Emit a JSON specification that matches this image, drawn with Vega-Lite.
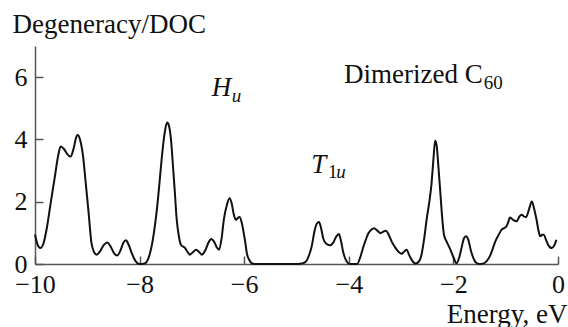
{
  "$schema": "https://vega.github.io/schema/vega-lite/v6.json",
  "autosize": {"type": "none"},
  "padding": {"left": 35, "top": 46, "right": 10, "bottom": 63},
  "width": 523,
  "height": 218,
  "config": {
    "view": {"stroke": null},
    "font": "Liberation Serif",
    "axis": {
      "grid": false,
      "labelFont": "Liberation Serif",
      "titleFont": "Liberation Serif",
      "labelFontSize": 26,
      "titleFontSize": 27,
      "labelColor": "#111",
      "titleColor": "#111",
      "titleFontWeight": "normal",
      "domainColor": "#555",
      "tickColor": "#555",
      "domainWidth": 1.5,
      "tickWidth": 1.5,
      "tickSize": -8,
      "labelFlush": false,
      "labelBound": false,
      "labelOverlap": false
    }
  },
  "datasets": {
    "doc": [
      {"e": -10.00, "d": 0.95}, {"e": -9.95, "d": 0.62}, {"e": -9.90, "d": 0.51}, {"e": -9.84, "d": 0.65},
      {"e": -9.78, "d": 1.10}, {"e": -9.71, "d": 1.85}, {"e": -9.62, "d": 2.81}, {"e": -9.56, "d": 3.45},
      {"e": -9.51, "d": 3.77}, {"e": -9.45, "d": 3.70}, {"e": -9.38, "d": 3.52}, {"e": -9.32, "d": 3.45},
      {"e": -9.26, "d": 3.72}, {"e": -9.21, "d": 4.08}, {"e": -9.18, "d": 4.14}, {"e": -9.14, "d": 4.00},
      {"e": -9.08, "d": 3.45}, {"e": -9.03, "d": 2.60}, {"e": -8.98, "d": 1.74}, {"e": -8.92, "d": 0.67},
      {"e": -8.87, "d": 0.38}, {"e": -8.82, "d": 0.30}, {"e": -8.76, "d": 0.40}, {"e": -8.68, "d": 0.62},
      {"e": -8.62, "d": 0.69}, {"e": -8.56, "d": 0.58}, {"e": -8.49, "d": 0.35}, {"e": -8.43, "d": 0.27},
      {"e": -8.37, "d": 0.42}, {"e": -8.31, "d": 0.68}, {"e": -8.26, "d": 0.76}, {"e": -8.21, "d": 0.62},
      {"e": -8.15, "d": 0.35}, {"e": -8.08, "d": 0.10}, {"e": -8.02, "d": 0.01}, {"e": -7.96, "d": 0.00},
      {"e": -7.89, "d": 0.03}, {"e": -7.84, "d": 0.15}, {"e": -7.80, "d": 0.35}, {"e": -7.75, "d": 0.75},
      {"e": -7.71, "d": 1.20}, {"e": -7.67, "d": 1.74}, {"e": -7.62, "d": 2.60}, {"e": -7.58, "d": 3.34},
      {"e": -7.53, "d": 4.10}, {"e": -7.49, "d": 4.48}, {"e": -7.47, "d": 4.54}, {"e": -7.44, "d": 4.45},
      {"e": -7.40, "d": 4.00}, {"e": -7.37, "d": 3.34}, {"e": -7.33, "d": 2.40}, {"e": -7.29, "d": 1.42},
      {"e": -7.25, "d": 0.90}, {"e": -7.21, "d": 0.62}, {"e": -7.13, "d": 0.51}, {"e": -7.08, "d": 0.38},
      {"e": -7.04, "d": 0.30}, {"e": -6.98, "d": 0.38}, {"e": -6.92, "d": 0.46}, {"e": -6.86, "d": 0.38},
      {"e": -6.81, "d": 0.30}, {"e": -6.74, "d": 0.45}, {"e": -6.68, "d": 0.70}, {"e": -6.63, "d": 0.80},
      {"e": -6.57, "d": 0.70}, {"e": -6.52, "d": 0.52}, {"e": -6.48, "d": 0.46}, {"e": -6.43, "d": 0.85},
      {"e": -6.39, "d": 1.42}, {"e": -6.33, "d": 1.90}, {"e": -6.28, "d": 2.11}, {"e": -6.24, "d": 1.95},
      {"e": -6.20, "d": 1.60}, {"e": -6.16, "d": 1.42}, {"e": -6.12, "d": 1.48}, {"e": -6.09, "d": 1.51},
      {"e": -6.05, "d": 1.35}, {"e": -6.02, "d": 1.10}, {"e": -5.98, "d": 0.70}, {"e": -5.95, "d": 0.35},
      {"e": -5.90, "d": 0.12}, {"e": -5.86, "d": 0.03}, {"e": -5.80, "d": 0.00}, {"e": -5.00, "d": 0.00},
      {"e": -4.93, "d": 0.01}, {"e": -4.87, "d": 0.03}, {"e": -4.81, "d": 0.10}, {"e": -4.76, "d": 0.28},
      {"e": -4.71, "d": 0.56}, {"e": -4.65, "d": 1.10}, {"e": -4.61, "d": 1.30}, {"e": -4.57, "d": 1.35},
      {"e": -4.53, "d": 1.15}, {"e": -4.49, "d": 0.83}, {"e": -4.43, "d": 0.65}, {"e": -4.36, "d": 0.60},
      {"e": -4.30, "d": 0.68}, {"e": -4.24, "d": 0.88}, {"e": -4.19, "d": 0.96}, {"e": -4.15, "d": 0.75},
      {"e": -4.11, "d": 0.40}, {"e": -4.04, "d": 0.08}, {"e": -3.98, "d": 0.00}, {"e": -3.84, "d": 0.00},
      {"e": -3.78, "d": 0.22}, {"e": -3.72, "d": 0.56}, {"e": -3.67, "d": 0.80}, {"e": -3.63, "d": 0.97},
      {"e": -3.57, "d": 1.10}, {"e": -3.52, "d": 1.15}, {"e": -3.46, "d": 1.08}, {"e": -3.39, "d": 0.99},
      {"e": -3.34, "d": 1.04}, {"e": -3.29, "d": 1.07}, {"e": -3.24, "d": 0.95}, {"e": -3.18, "d": 0.72},
      {"e": -3.12, "d": 0.55}, {"e": -3.07, "d": 0.43}, {"e": -2.99, "d": 0.33}, {"e": -2.94, "d": 0.40},
      {"e": -2.89, "d": 0.46}, {"e": -2.85, "d": 0.30}, {"e": -2.80, "d": 0.14}, {"e": -2.76, "d": 0.05},
      {"e": -2.72, "d": 0.02}, {"e": -2.66, "d": 0.08}, {"e": -2.61, "d": 0.30}, {"e": -2.56, "d": 0.80},
      {"e": -2.51, "d": 1.45}, {"e": -2.46, "d": 2.00}, {"e": -2.42, "d": 2.55}, {"e": -2.38, "d": 3.40},
      {"e": -2.35, "d": 3.96}, {"e": -2.32, "d": 3.80}, {"e": -2.29, "d": 3.20}, {"e": -2.25, "d": 2.30},
      {"e": -2.22, "d": 1.60}, {"e": -2.18, "d": 0.94}, {"e": -2.13, "d": 0.72}, {"e": -2.07, "d": 0.51},
      {"e": -2.00, "d": 0.22}, {"e": -1.94, "d": 0.02}, {"e": -1.89, "d": 0.20}, {"e": -1.84, "d": 0.55},
      {"e": -1.80, "d": 0.82}, {"e": -1.76, "d": 0.89}, {"e": -1.71, "d": 0.75}, {"e": -1.67, "d": 0.46},
      {"e": -1.62, "d": 0.20}, {"e": -1.57, "d": 0.05}, {"e": -1.50, "d": 0.00}, {"e": -1.42, "d": 0.02},
      {"e": -1.36, "d": 0.10}, {"e": -1.30, "d": 0.26}, {"e": -1.25, "d": 0.48}, {"e": -1.20, "d": 0.72},
      {"e": -1.14, "d": 0.92}, {"e": -1.08, "d": 1.10}, {"e": -0.99, "d": 1.20}, {"e": -0.95, "d": 1.35},
      {"e": -0.92, "d": 1.49}, {"e": -0.86, "d": 1.42}, {"e": -0.79, "d": 1.37}, {"e": -0.74, "d": 1.52},
      {"e": -0.69, "d": 1.58}, {"e": -0.65, "d": 1.52}, {"e": -0.61, "d": 1.51}, {"e": -0.55, "d": 1.78},
      {"e": -0.50, "d": 2.01}, {"e": -0.46, "d": 1.80}, {"e": -0.41, "d": 1.42}, {"e": -0.37, "d": 1.05},
      {"e": -0.34, "d": 0.89}, {"e": -0.30, "d": 0.94}, {"e": -0.27, "d": 0.94}, {"e": -0.23, "d": 0.78},
      {"e": -0.19, "d": 0.62}, {"e": -0.12, "d": 0.51}, {"e": -0.07, "d": 0.60}, {"e": -0.03, "d": 0.78}
    ]
  },
  "layer": [
    {
      "data": {"name": "doc"},
      "mark": {"type": "line", "interpolate": "monotone", "color": "#111", "strokeWidth": 2},
      "encoding": {
        "x": {
          "field": "e", "type": "quantitative",
          "scale": {"domain": [-10, 0], "nice": false, "zero": false},
          "axis": {
            "values": [-10, -8, -6, -4, -2, 0],
            "labelPadding": 15,
            "title": "Energy, eV",
            "titleAnchor": null,
            "titleAlign": "right",
            "titleBaseline": "alphabetic",
            "titleX": 532,
            "titleY": 58
          }
        },
        "y": {
          "field": "d", "type": "quantitative",
          "scale": {"domain": [0, 7], "nice": false},
          "axis": {
            "values": [0, 1, 2, 3, 4, 5, 6, 7],
            "labelExpr": "datum.value % 2 == 0 ? datum.label : ''",
            "labelPadding": 16,
            "title": "Degeneracy/DOC",
            "titleAngle": 0,
            "titleAnchor": null,
            "titleAlign": "left",
            "titleBaseline": "alphabetic",
            "titleX": -23,
            "titleY": -14
          }
        }
      }
    },
    {
      "data": {"values": [{}]},
      "mark": {"type": "text", "text": "H", "fontSize": 27, "fontStyle": "italic", "font": "Liberation Serif", "align": "left", "baseline": "alphabetic", "color": "#111"},
      "encoding": {"x": {"datum": -6.62}, "y": {"datum": 5.38}}
    },
    {
      "data": {"values": [{}]},
      "mark": {"type": "text", "text": "u", "fontSize": 19, "fontStyle": "italic", "font": "Liberation Serif", "align": "left", "baseline": "alphabetic", "color": "#111"},
      "encoding": {"x": {"datum": -6.24}, "y": {"datum": 5.19}}
    },
    {
      "data": {"values": [{}]},
      "mark": {"type": "text", "text": "Dimerized C", "fontSize": 27, "font": "Liberation Serif", "align": "left", "baseline": "alphabetic", "color": "#111"},
      "encoding": {"x": {"datum": -4.09}, "y": {"datum": 5.81}}
    },
    {
      "data": {"values": [{}]},
      "mark": {"type": "text", "text": "60", "fontSize": 19, "font": "Liberation Serif", "align": "left", "baseline": "alphabetic", "color": "#111"},
      "encoding": {"x": {"datum": -1.42}, "y": {"datum": 5.63}}
    },
    {
      "data": {"values": [{}]},
      "mark": {"type": "text", "text": "T", "fontSize": 27, "fontStyle": "italic", "font": "Liberation Serif", "align": "left", "baseline": "alphabetic", "color": "#111"},
      "encoding": {"x": {"datum": -4.72}, "y": {"datum": 2.93}}
    },
    {
      "data": {"values": [{}]},
      "mark": {"type": "text", "text": "1", "fontSize": 19, "font": "Liberation Serif", "align": "left", "baseline": "alphabetic", "color": "#111"},
      "encoding": {"x": {"datum": -4.4}, "y": {"datum": 2.77}}
    },
    {
      "data": {"values": [{}]},
      "mark": {"type": "text", "text": "u", "fontSize": 19, "fontStyle": "italic", "font": "Liberation Serif", "align": "left", "baseline": "alphabetic", "color": "#111"},
      "encoding": {"x": {"datum": -4.24}, "y": {"datum": 2.77}}
    }
  ]
}
